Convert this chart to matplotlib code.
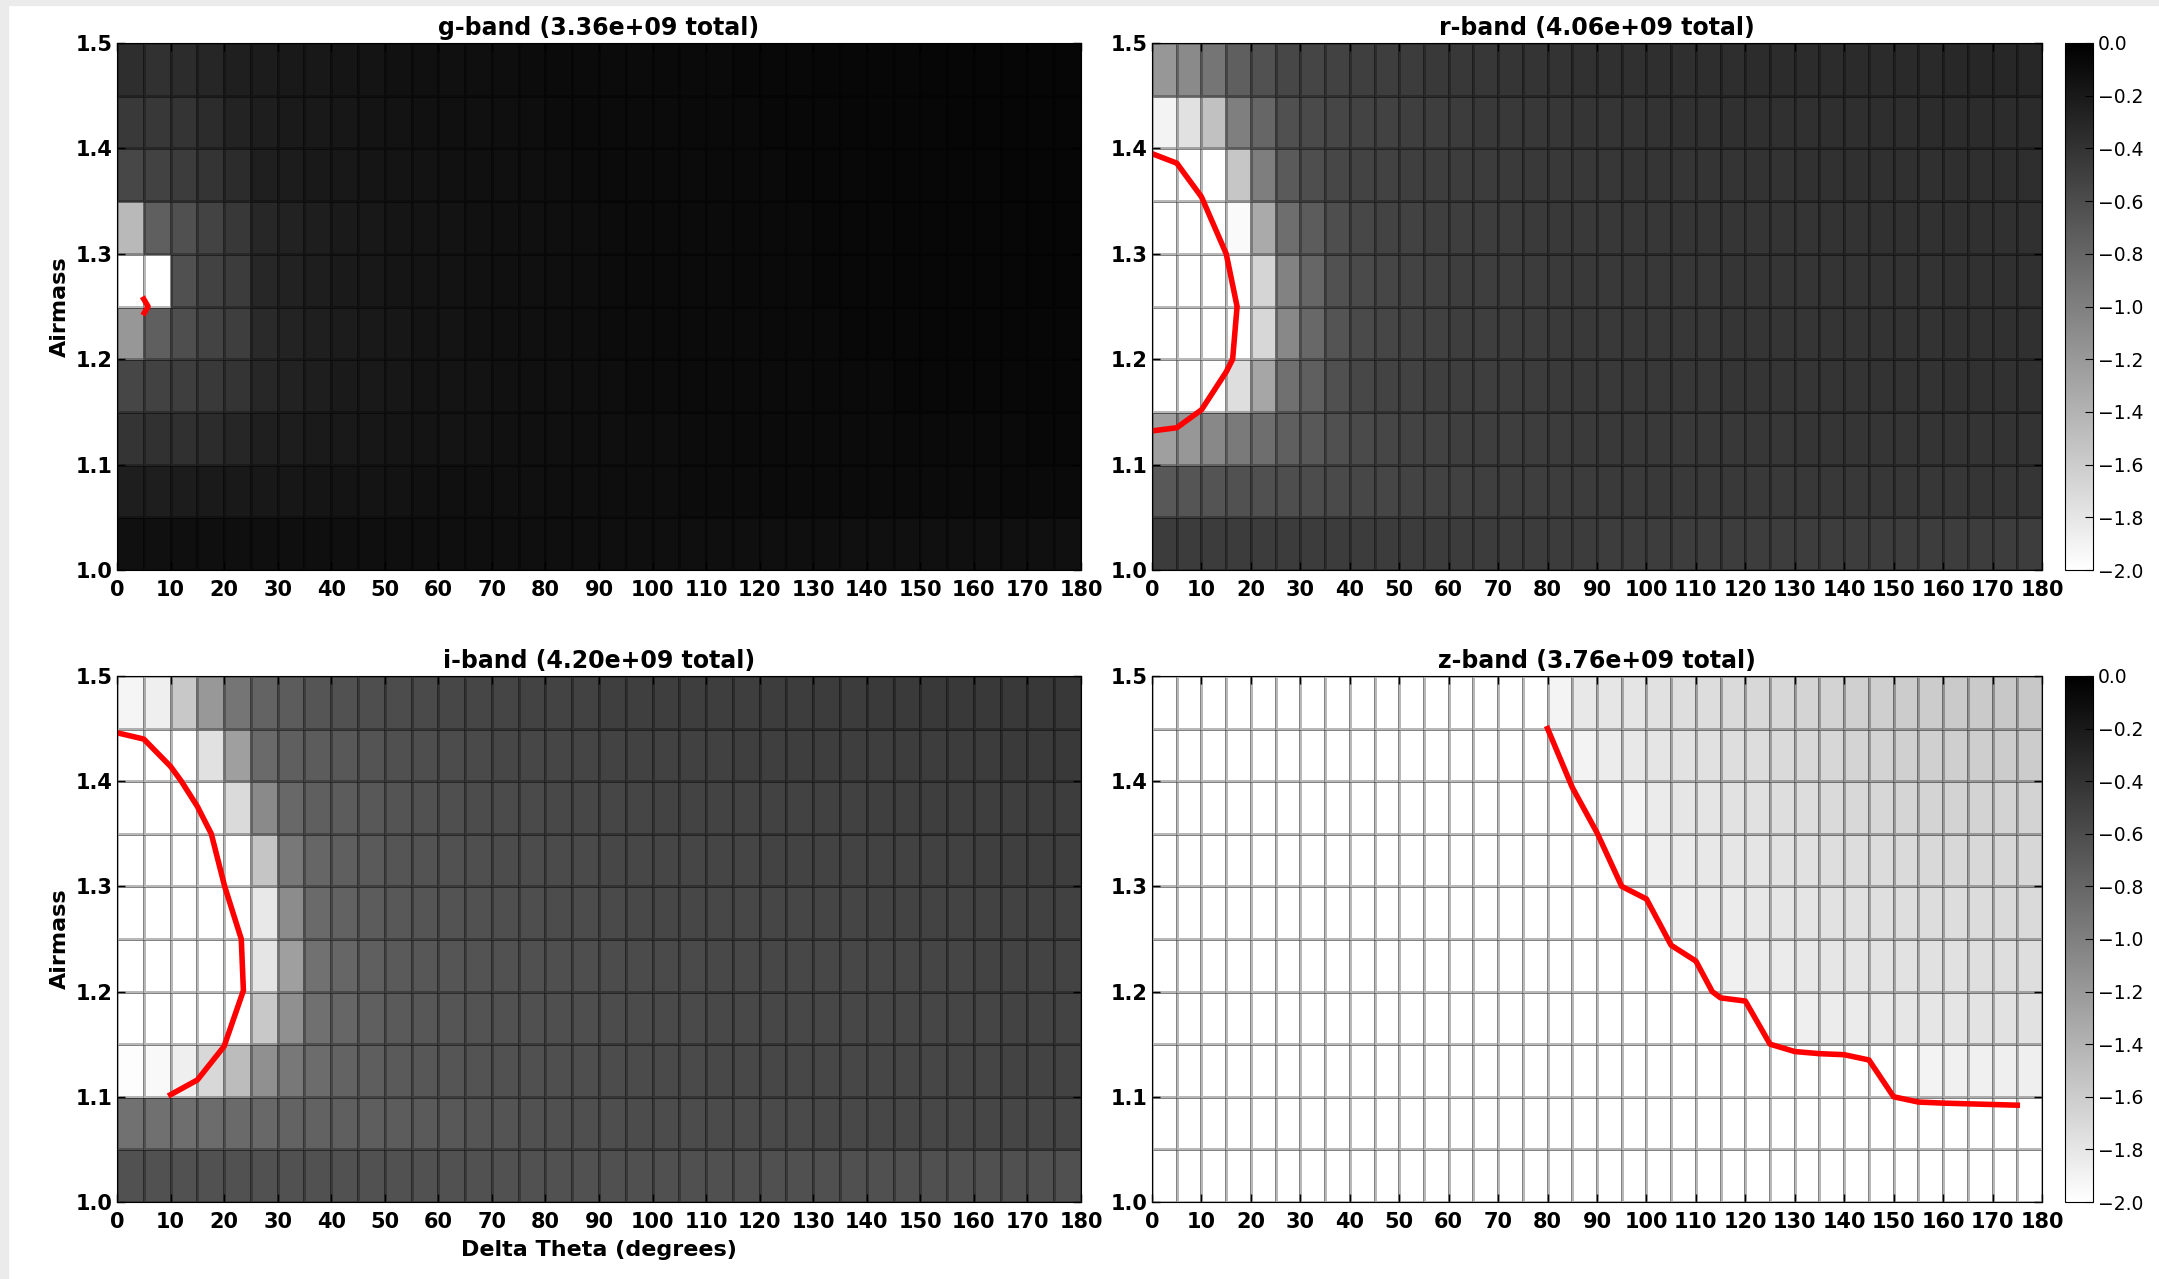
#!/usr/bin/env python3

import numpy as np
import matplotlib
matplotlib.use("Agg")
import matplotlib.pyplot as plt
from matplotlib.patches import Rectangle

# bin edges
theta_edges = np.arange(0, 185, 5)
airmass_edges = np.round(np.arange(1.0, 1.5001, 0.05), 2)

titles = ["g-band (3.36e+09 total)", "r-band (4.06e+09 total)",
          "i-band (4.20e+09 total)", "z-band (3.76e+09 total)"]

# log10 fractions, rows listed from top (airmass 1.45-1.50) down to 1.00-1.05
g_vals = [
    [-0.36, -0.39, -0.35, -0.30, -0.25, -0.22, -0.20, -0.19, -0.17, -0.16, -0.14, -0.13, -0.13, -0.12, -0.11, -0.10, -0.09, -0.09,
     -0.09, -0.09, -0.08, -0.08, -0.08, -0.07, -0.07, -0.07, -0.06, -0.06, -0.06, -0.06, -0.05, -0.05, -0.05, -0.05, -0.05, -0.05],
    [-0.45, -0.44, -0.41, -0.35, -0.28, -0.24, -0.21, -0.20, -0.18, -0.16, -0.15, -0.14, -0.13, -0.13, -0.12, -0.11, -0.10, -0.09,
     -0.09, -0.09, -0.09, -0.08, -0.08, -0.08, -0.07, -0.07, -0.07, -0.06, -0.06, -0.06, -0.06, -0.05, -0.05, -0.05, -0.05, -0.05],
    [-0.56, -0.52, -0.47, -0.41, -0.35, -0.25, -0.22, -0.20, -0.19, -0.17, -0.16, -0.15, -0.14, -0.13, -0.13, -0.12, -0.11, -0.10,
     -0.09, -0.09, -0.09, -0.09, -0.08, -0.08, -0.08, -0.07, -0.07, -0.07, -0.06, -0.06, -0.06, -0.06, -0.06, -0.05, -0.05, -0.05],
    [-1.45, -0.75, -0.63, -0.53, -0.44, -0.31, -0.27, -0.24, -0.21, -0.19, -0.17, -0.16, -0.15, -0.14, -0.13, -0.13, -0.12, -0.11,
     -0.10, -0.09, -0.09, -0.09, -0.09, -0.08, -0.08, -0.08, -0.07, -0.07, -0.07, -0.06, -0.06, -0.06, -0.06, -0.06, -0.05, -0.05],
    [-2.00, -2.00, -0.63, -0.52, -0.47, -0.31, -0.27, -0.24, -0.21, -0.19, -0.17, -0.16, -0.15, -0.14, -0.13, -0.13, -0.12, -0.11,
     -0.10, -0.09, -0.09, -0.09, -0.09, -0.08, -0.08, -0.08, -0.07, -0.07, -0.07, -0.06, -0.06, -0.06, -0.06, -0.06, -0.05, -0.05],
    [-1.18, -0.75, -0.61, -0.53, -0.49, -0.33, -0.28, -0.25, -0.22, -0.20, -0.18, -0.16, -0.16, -0.14, -0.13, -0.13, -0.12, -0.11,
     -0.10, -0.10, -0.09, -0.09, -0.09, -0.09, -0.08, -0.08, -0.08, -0.07, -0.07, -0.07, -0.06, -0.06, -0.06, -0.06, -0.06, -0.06],
    [-0.55, -0.52, -0.49, -0.45, -0.41, -0.31, -0.27, -0.24, -0.21, -0.20, -0.18, -0.16, -0.16, -0.15, -0.14, -0.13, -0.13, -0.12,
     -0.11, -0.10, -0.10, -0.09, -0.09, -0.09, -0.09, -0.09, -0.08, -0.08, -0.08, -0.07, -0.07, -0.07, -0.07, -0.07, -0.06, -0.06],
    [-0.41, -0.39, -0.38, -0.35, -0.30, -0.25, -0.23, -0.21, -0.20, -0.18, -0.17, -0.16, -0.16, -0.15, -0.14, -0.13, -0.13, -0.12,
     -0.12, -0.11, -0.11, -0.10, -0.10, -0.09, -0.09, -0.09, -0.09, -0.09, -0.09, -0.08, -0.08, -0.08, -0.08, -0.08, -0.07, -0.07],
    [-0.24, -0.24, -0.22, -0.21, -0.20, -0.19, -0.18, -0.17, -0.16, -0.16, -0.15, -0.14, -0.13, -0.13, -0.13, -0.13, -0.12, -0.12,
     -0.11, -0.11, -0.11, -0.10, -0.10, -0.10, -0.09, -0.09, -0.09, -0.09, -0.09, -0.09, -0.09, -0.09, -0.09, -0.08, -0.08, -0.08],
    [-0.13, -0.13, -0.12, -0.12, -0.12, -0.12, -0.12, -0.12, -0.12, -0.12, -0.12, -0.12, -0.12, -0.12, -0.12, -0.12, -0.12, -0.12,
     -0.12, -0.12, -0.12, -0.12, -0.12, -0.12, -0.12, -0.12, -0.12, -0.13, -0.13, -0.13, -0.13, -0.13, -0.13, -0.13, -0.13, -0.13],
]

r_vals = [
    [-1.18, -1.08, -0.92, -0.75, -0.64, -0.56, -0.54, -0.52, -0.50, -0.49, -0.47, -0.45, -0.44, -0.43, -0.42, -0.41, -0.40, -0.39,
     -0.38, -0.38, -0.37, -0.37, -0.36, -0.36, -0.35, -0.35, -0.35, -0.35, -0.34, -0.34, -0.33, -0.33, -0.32, -0.31, -0.31, -0.31],
    [-1.90, -1.76, -1.51, -1.00, -0.80, -0.63, -0.58, -0.55, -0.53, -0.52, -0.50, -0.49, -0.47, -0.45, -0.45, -0.44, -0.43, -0.42,
     -0.42, -0.41, -0.40, -0.39, -0.39, -0.38, -0.38, -0.38, -0.38, -0.37, -0.37, -0.36, -0.36, -0.35, -0.35, -0.35, -0.35, -0.34],
    [-2.00, -2.00, -2.00, -1.55, -0.99, -0.71, -0.61, -0.56, -0.53, -0.52, -0.50, -0.49, -0.48, -0.47, -0.46, -0.45, -0.45, -0.44,
     -0.43, -0.42, -0.42, -0.42, -0.41, -0.41, -0.40, -0.40, -0.39, -0.39, -0.38, -0.38, -0.38, -0.38, -0.37, -0.37, -0.36, -0.36],
    [-2.00, -2.00, -2.00, -1.96, -1.33, -0.86, -0.72, -0.61, -0.56, -0.53, -0.52, -0.50, -0.49, -0.48, -0.47, -0.46, -0.45, -0.45,
     -0.44, -0.43, -0.43, -0.42, -0.42, -0.42, -0.42, -0.41, -0.41, -0.40, -0.40, -0.39, -0.39, -0.39, -0.38, -0.38, -0.38, -0.38],
    [-2.00, -2.00, -2.00, -2.00, -1.67, -1.02, -0.80, -0.64, -0.58, -0.55, -0.53, -0.51, -0.49, -0.49, -0.48, -0.47, -0.46, -0.45,
     -0.45, -0.44, -0.44, -0.43, -0.43, -0.42, -0.42, -0.42, -0.42, -0.41, -0.41, -0.40, -0.40, -0.40, -0.39, -0.39, -0.38, -0.38],
    [-2.00, -2.00, -2.00, -2.00, -1.68, -1.07, -0.82, -0.66, -0.58, -0.55, -0.53, -0.51, -0.49, -0.49, -0.48, -0.47, -0.46, -0.45,
     -0.45, -0.44, -0.44, -0.43, -0.43, -0.42, -0.42, -0.42, -0.42, -0.41, -0.41, -0.40, -0.40, -0.40, -0.39, -0.39, -0.38, -0.38],
    [-2.00, -2.00, -1.98, -1.74, -1.30, -0.88, -0.75, -0.63, -0.56, -0.53, -0.52, -0.50, -0.49, -0.49, -0.48, -0.47, -0.46, -0.45,
     -0.45, -0.44, -0.44, -0.43, -0.43, -0.42, -0.42, -0.42, -0.42, -0.41, -0.41, -0.40, -0.40, -0.40, -0.39, -0.39, -0.39, -0.38],
    [-1.25, -1.18, -1.07, -0.96, -0.86, -0.75, -0.69, -0.63, -0.58, -0.55, -0.53, -0.52, -0.50, -0.49, -0.49, -0.48, -0.47, -0.46,
     -0.45, -0.45, -0.45, -0.45, -0.44, -0.44, -0.43, -0.43, -0.42, -0.42, -0.42, -0.42, -0.42, -0.41, -0.41, -0.41, -0.40, -0.40],
    [-0.69, -0.67, -0.66, -0.64, -0.63, -0.61, -0.60, -0.58, -0.56, -0.55, -0.53, -0.52, -0.51, -0.50, -0.49, -0.49, -0.48, -0.47,
     -0.46, -0.46, -0.45, -0.45, -0.45, -0.45, -0.45, -0.45, -0.44, -0.44, -0.44, -0.43, -0.43, -0.43, -0.43, -0.42, -0.42, -0.42],
    [-0.47, -0.47, -0.47, -0.47, -0.47, -0.47, -0.47, -0.47, -0.47, -0.47, -0.47, -0.47, -0.47, -0.47, -0.47, -0.47, -0.47, -0.47,
     -0.48, -0.48, -0.48, -0.48, -0.48, -0.48, -0.48, -0.48, -0.48, -0.48, -0.48, -0.48, -0.48, -0.48, -0.48, -0.48, -0.48, -0.48],
]

i_vals = [
    [-1.92, -1.87, -1.57, -1.19, -0.92, -0.78, -0.72, -0.67, -0.64, -0.61, -0.60, -0.58, -0.56, -0.55, -0.54, -0.53, -0.53, -0.52,
     -0.50, -0.50, -0.49, -0.49, -0.49, -0.49, -0.48, -0.48, -0.47, -0.47, -0.46, -0.46, -0.45, -0.45, -0.45, -0.45, -0.44, -0.44],
    [-2.00, -2.00, -2.00, -1.76, -1.25, -0.83, -0.75, -0.72, -0.69, -0.66, -0.63, -0.61, -0.60, -0.58, -0.56, -0.56, -0.55, -0.54,
     -0.53, -0.52, -0.52, -0.51, -0.51, -0.50, -0.50, -0.49, -0.49, -0.49, -0.49, -0.48, -0.48, -0.47, -0.47, -0.46, -0.46, -0.45],
    [-2.00, -2.00, -2.00, -2.00, -1.71, -1.08, -0.82, -0.75, -0.72, -0.69, -0.66, -0.64, -0.62, -0.60, -0.59, -0.58, -0.57, -0.56,
     -0.55, -0.54, -0.53, -0.53, -0.53, -0.53, -0.52, -0.52, -0.51, -0.51, -0.50, -0.50, -0.49, -0.49, -0.49, -0.49, -0.48, -0.48],
    [-2.00, -2.00, -2.00, -2.00, -2.00, -1.54, -0.94, -0.80, -0.75, -0.71, -0.67, -0.65, -0.64, -0.62, -0.60, -0.60, -0.59, -0.58,
     -0.56, -0.56, -0.55, -0.55, -0.54, -0.54, -0.53, -0.53, -0.53, -0.53, -0.52, -0.52, -0.51, -0.51, -0.50, -0.50, -0.49, -0.49],
    [-2.00, -2.00, -2.00, -2.00, -2.00, -1.82, -1.10, -0.83, -0.77, -0.72, -0.69, -0.67, -0.65, -0.64, -0.62, -0.61, -0.60, -0.60,
     -0.58, -0.57, -0.56, -0.56, -0.56, -0.56, -0.55, -0.55, -0.54, -0.54, -0.53, -0.53, -0.53, -0.53, -0.52, -0.52, -0.51, -0.51],
    [-2.00, -2.00, -2.00, -2.00, -2.00, -1.79, -1.25, -0.89, -0.80, -0.75, -0.71, -0.68, -0.67, -0.65, -0.64, -0.63, -0.62, -0.61,
     -0.60, -0.59, -0.58, -0.58, -0.57, -0.57, -0.56, -0.56, -0.56, -0.56, -0.55, -0.55, -0.54, -0.54, -0.53, -0.53, -0.53, -0.53],
    [-2.00, -2.00, -2.00, -2.00, -2.00, -1.57, -1.13, -0.88, -0.80, -0.75, -0.71, -0.68, -0.67, -0.65, -0.64, -0.63, -0.62, -0.61,
     -0.60, -0.59, -0.58, -0.58, -0.57, -0.57, -0.56, -0.56, -0.56, -0.56, -0.55, -0.55, -0.55, -0.54, -0.54, -0.53, -0.53, -0.53],
    [-1.98, -1.95, -1.87, -1.69, -1.47, -1.13, -0.94, -0.85, -0.78, -0.74, -0.71, -0.68, -0.67, -0.65, -0.64, -0.63, -0.62, -0.61,
     -0.60, -0.59, -0.58, -0.58, -0.57, -0.57, -0.56, -0.56, -0.56, -0.56, -0.55, -0.55, -0.55, -0.54, -0.54, -0.53, -0.53, -0.53],
    [-0.89, -0.88, -0.86, -0.85, -0.83, -0.82, -0.78, -0.77, -0.75, -0.74, -0.72, -0.71, -0.69, -0.67, -0.66, -0.64, -0.63, -0.62,
     -0.61, -0.60, -0.60, -0.60, -0.59, -0.59, -0.58, -0.58, -0.57, -0.57, -0.56, -0.56, -0.56, -0.56, -0.55, -0.55, -0.55, -0.55],
    [-0.64, -0.64, -0.64, -0.64, -0.64, -0.64, -0.64, -0.64, -0.64, -0.64, -0.64, -0.64, -0.64, -0.64, -0.64, -0.64, -0.64, -0.64,
     -0.63, -0.63, -0.63, -0.63, -0.63, -0.63, -0.63, -0.63, -0.63, -0.63, -0.63, -0.63, -0.63, -0.63, -0.63, -0.63, -0.63, -0.63],
]

z_vals = [
    [-2.00, -2.00, -2.00, -2.00, -2.00, -2.00, -2.00, -2.00, -2.00, -2.00, -2.00, -2.00, -2.00, -2.00, -2.00, -2.00, -1.91, -1.82,
     -1.80, -1.79, -1.76, -1.74, -1.73, -1.71, -1.69, -1.68, -1.66, -1.65, -1.63, -1.62, -1.60, -1.60, -1.58, -1.58, -1.57, -1.57],
    [-2.00, -2.00, -2.00, -2.00, -2.00, -2.00, -2.00, -2.00, -2.00, -2.00, -2.00, -2.00, -2.00, -2.00, -2.00, -2.00, -2.00, -1.90,
     -1.85, -1.82, -1.79, -1.77, -1.76, -1.74, -1.73, -1.71, -1.69, -1.68, -1.66, -1.65, -1.63, -1.63, -1.62, -1.61, -1.60, -1.60],
    [-2.00, -2.00, -2.00, -2.00, -2.00, -2.00, -2.00, -2.00, -2.00, -2.00, -2.00, -2.00, -2.00, -2.00, -2.00, -2.00, -2.00, -2.00,
     -2.00, -1.91, -1.84, -1.80, -1.79, -1.77, -1.76, -1.74, -1.73, -1.71, -1.69, -1.68, -1.67, -1.66, -1.65, -1.65, -1.65, -1.65],
    [-2.00, -2.00, -2.00, -2.00, -2.00, -2.00, -2.00, -2.00, -2.00, -2.00, -2.00, -2.00, -2.00, -2.00, -2.00, -2.00, -2.00, -2.00,
     -2.00, -2.00, -1.87, -1.84, -1.82, -1.80, -1.79, -1.77, -1.76, -1.74, -1.73, -1.72, -1.71, -1.70, -1.69, -1.69, -1.68, -1.68],
    [-2.00, -2.00, -2.00, -2.00, -2.00, -2.00, -2.00, -2.00, -2.00, -2.00, -2.00, -2.00, -2.00, -2.00, -2.00, -2.00, -2.00, -2.00,
     -2.00, -2.00, -2.00, -1.87, -1.85, -1.84, -1.82, -1.80, -1.79, -1.77, -1.76, -1.75, -1.74, -1.73, -1.73, -1.72, -1.71, -1.71],
    [-2.00, -2.00, -2.00, -2.00, -2.00, -2.00, -2.00, -2.00, -2.00, -2.00, -2.00, -2.00, -2.00, -2.00, -2.00, -2.00, -2.00, -2.00,
     -2.00, -2.00, -2.00, -2.00, -2.00, -1.88, -1.85, -1.84, -1.82, -1.80, -1.79, -1.78, -1.77, -1.76, -1.76, -1.75, -1.74, -1.74],
    [-2.00, -2.00, -2.00, -2.00, -2.00, -2.00, -2.00, -2.00, -2.00, -2.00, -2.00, -2.00, -2.00, -2.00, -2.00, -2.00, -2.00, -2.00,
     -2.00, -2.00, -2.00, -2.00, -2.00, -2.00, -2.00, -2.00, -1.87, -1.85, -1.84, -1.82, -1.80, -1.80, -1.79, -1.78, -1.77, -1.77],
    [-2.00, -2.00, -2.00, -2.00, -2.00, -2.00, -2.00, -2.00, -2.00, -2.00, -2.00, -2.00, -2.00, -2.00, -2.00, -2.00, -2.00, -2.00,
     -2.00, -2.00, -2.00, -2.00, -2.00, -2.00, -2.00, -2.00, -2.00, -2.00, -2.00, -2.00, -2.00, -1.90, -1.88, -1.88, -1.87, -1.87],
    [-2.00, -2.00, -2.00, -2.00, -2.00, -2.00, -2.00, -2.00, -2.00, -2.00, -2.00, -2.00, -2.00, -2.00, -2.00, -2.00, -2.00, -2.00,
     -2.00, -2.00, -2.00, -2.00, -2.00, -2.00, -2.00, -2.00, -2.00, -2.00, -2.00, -2.00, -2.00, -2.00, -2.00, -2.00, -2.00, -2.00],
    [-2.00, -2.00, -2.00, -2.00, -2.00, -2.00, -2.00, -2.00, -2.00, -2.00, -2.00, -2.00, -2.00, -2.00, -2.00, -2.00, -2.00, -2.00,
     -2.00, -2.00, -2.00, -2.00, -2.00, -2.00, -2.00, -2.00, -2.00, -2.00, -2.00, -2.00, -2.00, -2.00, -2.00, -2.00, -2.00, -2.00],
]

# red contour traces (delta theta, airmass)
g_line_x = [5.0, 5.8, 5.1]
g_line_y = [1.257, 1.250, 1.244]
r_line_x = [0, 5, 10, 15, 17.2, 16.3, 15, 10, 5, 0]
r_line_y = [1.395, 1.386, 1.354, 1.300, 1.250, 1.200, 1.188, 1.152, 1.135, 1.132]
i_line_x = [0, 5, 10, 12, 15, 17.6, 20.1, 23.2, 23.6, 20, 15, 10]
i_line_y = [1.446, 1.440, 1.414, 1.400, 1.376, 1.350, 1.300, 1.250, 1.201, 1.148, 1.116, 1.102]
z_line_x = [80, 85, 90, 95, 100, 105, 110, 113.3, 115, 120, 125, 130, 135, 140, 145, 150, 155, 160, 175]
z_line_y = [1.450, 1.394, 1.351, 1.300, 1.288, 1.244, 1.229, 1.200, 1.194, 1.191, 1.150, 1.143,
            1.141, 1.140, 1.135, 1.100, 1.095, 1.094, 1.092]

cbar_ticks = [0.0, -0.2, -0.4, -0.6, -0.8, -1.0, -1.2, -1.4, -1.6, -1.8, -2.0]


def draw_panel(ax, vals, line_x, line_y, title):
    z = np.flipud(np.array(vals))
    mesh = ax.pcolormesh(theta_edges, airmass_edges, z, cmap="gray_r", vmin=-2, vmax=0,
                         edgecolors=(0, 0, 0, 0.28), linewidth=1.0)
    ax.plot(line_x, line_y, color="red", lw=4)
    ax.set_xlim(0, 180)
    ax.set_ylim(1.0, 1.5)
    ax.set_xticks(np.arange(0, 181, 10))
    ax.set_yticks([1.0, 1.1, 1.2, 1.3, 1.4, 1.5])
    ax.tick_params(direction="in", top=True, right=True, length=6, width=1, labelsize=15)
    ax.tick_params(axis="x", pad=7)
    ax.tick_params(axis="y", pad=3)
    for lab in ax.get_xticklabels() + ax.get_yticklabels():
        lab.set_fontweight("bold")
    ax.set_title(title, fontsize=17, fontweight="bold", pad=6)
    return mesh


def add_cbar(fig, mesh, rect):
    cax = fig.add_axes(rect)
    cb = fig.colorbar(mesh, cax=cax, ticks=cbar_ticks)
    cb.ax.tick_params(direction="in", length=6, labelsize=13.5)
    return cb


fig = plt.figure(figsize=(21.59, 12.79), dpi=100)

# screenshot border
fig.patches.append(Rectangle((0, 0), 8 / 2159, 1, transform=fig.transFigure,
                             color="#ebebeb", zorder=0))
fig.patches.append(Rectangle((0, 1 - 5 / 1279), 1, 5 / 1279, transform=fig.transFigure,
                             color="#ebebeb", zorder=0))

ax_g = fig.add_axes([0.0542, 0.5543, 0.4465, 0.4121])
ax_r = fig.add_axes([0.5336, 0.5543, 0.4122, 0.4121])
ax_i = fig.add_axes([0.0542, 0.0602, 0.4465, 0.4113])
ax_z = fig.add_axes([0.5336, 0.0602, 0.4122, 0.4113])

draw_panel(ax_g, g_vals, g_line_x, g_line_y, titles[0])
m_r = draw_panel(ax_r, r_vals, r_line_x, r_line_y, titles[1])
draw_panel(ax_i, i_vals, i_line_x, i_line_y, titles[2])
m_z = draw_panel(ax_z, z_vals, z_line_x, z_line_y, titles[3])

add_cbar(fig, m_r, [0.9565, 0.5543, 0.0130, 0.4121])
add_cbar(fig, m_z, [0.9565, 0.0602, 0.0130, 0.4113])

ax_g.set_ylabel("Airmass", fontsize=16, fontweight="bold")
ax_i.set_ylabel("Airmass", fontsize=16, fontweight="bold")
ax_i.set_xlabel("Delta Theta (degrees)", fontsize=16, fontweight="bold", labelpad=6)

fig.savefig("out.png", dpi=100)
